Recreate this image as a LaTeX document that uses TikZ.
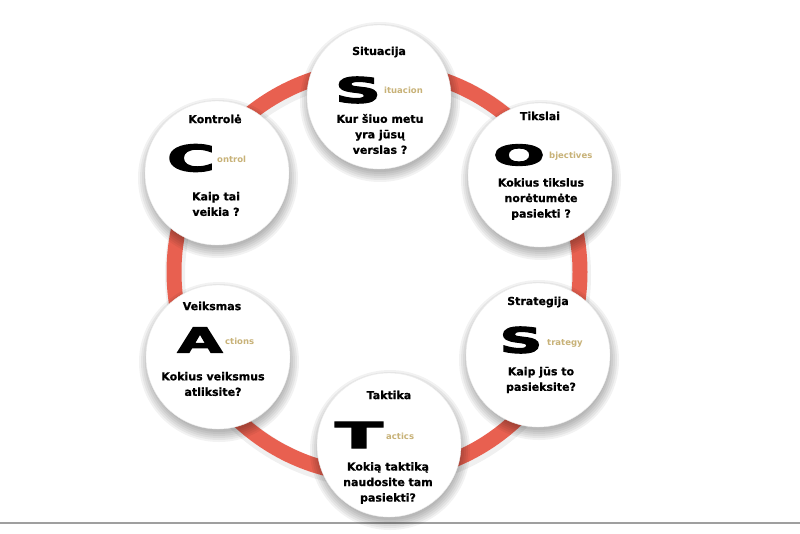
\documentclass[tikz,border=0pt]{standalone}
\usepackage{fontspec}
\setmainfont{DejaVu Sans}
\newfontfamily\heavyfont[FakeBold=3]{DejaVu Sans Bold}
\newfontfamily\boldfont[FakeBold=0.7]{DejaVu Sans Bold}
\usepackage{graphicx}
\definecolor{ringred}{RGB}{232,96,80}
\definecolor{tanword}{RGB}{200,178,120}
\newcommand{\bigch}[3]{\resizebox{#2pt}{#3pt}{\heavyfont #1}}

\begin{document}
\begin{tikzpicture}[x=1pt,y=-1pt,
  title/.style={font=\boldfont\fontsize{11}{13}\selectfont},
  quest/.style={font=\boldfont\fontsize{11}{15.5}\selectfont, align=center},
  word/.style={font=\bfseries\fontsize{8.5}{10}\selectfont, text=tanword, anchor=west, inner sep=0pt},
  letter/.style={inner sep=0pt}]
\useasboundingbox (0,0) rectangle (800,533);
\fill[white] (0,0) rectangle (800,533);
\draw[gray!75,line width=2] (0,523) -- (800,523);

% ring
\draw[black,opacity=.06,line width=20] (378,275) circle (203);
\draw[ringred,line width=15] (377,272) circle (203);

% bubbles
\coordinate (sit) at (379,97);
\coordinate (tik) at (540,175);
\coordinate (str) at (538,355);
\coordinate (tak) at (389,445);
\coordinate (vei) at (218,357);
\coordinate (kon) at (217,173);
\foreach \c in {sit,tik,str,tak,vei,kon}{
  \foreach \r in {80,78,...,70}
    \fill[black,opacity=.05] ([shift={(1,5)}]\c) circle (\r);
  \fill[white] (\c) circle (72);
  \draw[gray!15] (\c) circle (72);
}

% Situacija
\node[title] (sitT) at (379,52) {Situacija};
\node[letter] (sitL) at (358,90) {\bigch{S}{46}{26}};
\node[word] (sitW) at (384,90) {ituacion};
\node[quest] (sitQ) at (380,134) {Kur šiuo metu\\yra jūsų\\verslas ?};

% Tikslai
\node[title] (tikT) at (540,116) {Tikslai};
\node[letter] (tikL) at (519,155) {\bigch{O}{52}{21}};
\node[word] (tikW) at (549,156) {bjectives};
\node[quest] (tikQ) at (541,199) {Kokius tikslus\\norėtumėte\\pasiekti ?};

% Strategija
\node[title] (strT) at (538,302) {Strategija};
\node[letter] (strL) at (521,340) {\bigch{S}{43}{26}};
\node[word] (strW) at (547,343) {trategy};
\node[quest] (strQ) at (541,380) {Kaip jūs to\\pasieksite?};

% Taktika
\node[title] (takT) at (389,395) {Taktika};
\node[letter] (takL) at (359,435) {\bigch{T}{48}{26}};
\node[word] (takW) at (386,436) {actics};
\node[quest] (takQ) at (388,483) {Kokią taktiką\\naudosite tam\\pasiekti?};

% Veiksmas
\node[title] (veiT) at (212,306) {Veiksmas};
\node[letter] (veiL) at (200,340) {\bigch{A}{45}{25}};
\node[word] (veiW) at (225,341) {ctions};
\node[quest] (veiQ) at (213,384) {Kokius veiksmus\\atliksite?};

% Kontrole
\node[title] (konT) at (215,119) {Kontrolė};
\node[letter] (konL) at (191,158) {\bigch{C}{48}{27}};
\node[word] (konW) at (217,159) {ontrol};
\node[quest] (konQ) at (216,204) {Kaip tai\\veikia ?};
\end{tikzpicture}
\end{document}
